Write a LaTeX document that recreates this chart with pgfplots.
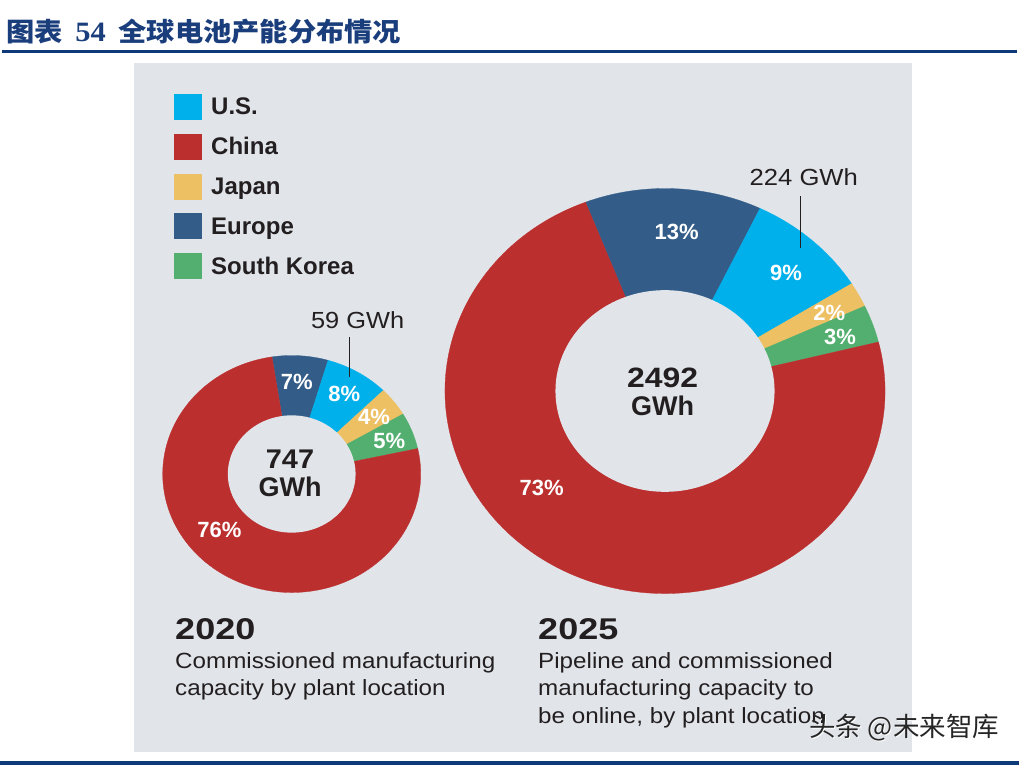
\documentclass[border=0pt]{standalone}
\usepackage{fontspec}
\setmainfont{Liberation Sans}
\newfontfamily\cjk{Noto Sans CJK SC}
\newfontfamily\tnr{Liberation Serif}
\usepackage{pgfplots}
\pgfplotsset{compat=1.18}
\definecolor{cUS}{HTML}{00B0EB}
\definecolor{cCN}{HTML}{BC2F2F}
\definecolor{cJP}{HTML}{EEC064}
\definecolor{cEU}{HTML}{335D88}
\definecolor{cKR}{HTML}{52AF6F}
\definecolor{panel}{HTML}{E1E5EA}
\definecolor{ttl}{HTML}{1A3D7C}
\definecolor{rule}{HTML}{0E3A7A}
\definecolor{dark}{HTML}{231F20}
% donut: cx cy rx ry ratio startangle {value/colour,...}
\newcommand\donut[7]{%
  \gdef\cum{0}%
  \foreach \v/\cl in {#7}{%
    \pgfmathsetmacro\sA{#6-3.6*\cum}%
    \pgfmathsetmacro\eA{#6-3.6*(\cum+\v)}%
    \edef\tmp{\noexpand\filldraw[\cl, line width=0.3pt] (axis cs:#1,#2) -- ++(\sA:#3pt and #4pt) arc[start angle=\sA, end angle=\eA, x radius=#3pt, y radius=#4pt] -- cycle;}%
    \tmp
    \pgfmathsetmacro\newcum{\cum+\v}\xdef\cum{\newcum}%
  }%
  \pgfmathsetmacro\rxi{#3*#5}\pgfmathsetmacro\ryi{#4*#5}%
  \edef\tmp{\noexpand\fill[panel] (axis cs:#1,#2) ellipse[x radius=\rxi pt, y radius=\ryi pt];}%
  \tmp
}
\newcommand\pct{\fontsize{22}{22}\selectfont\bfseries}
\begin{document}
\begin{tikzpicture}
\begin{axis}[width=1019pt, height=765pt, scale only axis,
  xmin=0, xmax=1019, ymin=0, ymax=765, hide axis, clip=false]
\addplot[draw=none] coordinates {(0,0) (1019,765)};
% background, panel, rules
\fill[white] (axis cs:0,0) rectangle (axis cs:1019,765);
\fill[panel] (axis cs:133.5,13.3) rectangle (axis cs:911.7,701.7);
\fill[rule] (axis cs:2,711.5) rectangle (axis cs:1017,714.5);
\fill[rule] (axis cs:0,0) rectangle (axis cs:1019,4);
% title
\node[anchor=west, inner sep=0pt, text=ttl, xscale=1.087] at (axis cs:6,733)
  {\fontsize{26}{26}\selectfont\cjk\bfseries 图表\hspace{0.45em}{\tnr\bfseries\fontsize{28}{28}\selectfont 54}\hspace{0.45em}全球电池产能分布情况};
% donuts (values in %)
\donut{291.7}{291}{129}{118.5}{0.495}{98.8}{7/cEU,8/cUS,4/cJP,5/cKR,76/cCN}
\donut{665}{374}{220}{202.5}{0.498}{111.2}{13/cEU,9/cUS,2/cJP,3/cKR,73/cCN}
% percentage labels
\node[text=white, inner sep=0pt] at (axis cs:296.7,383.3) {\pct 7\%};
\node[text=white, inner sep=0pt] at (axis cs:344.3,371) {\pct 8\%};
\node[text=white, inner sep=0pt] at (axis cs:374,347.7) {\pct 4\%};
\node[text=white, inner sep=0pt] at (axis cs:389.3,324.3) {\pct 5\%};
\node[text=white, inner sep=0pt] at (axis cs:219.3,235) {\pct 76\%};
\node[text=white, inner sep=0pt] at (axis cs:676.7,533.3) {\pct 13\%};
\node[text=white, inner sep=0pt] at (axis cs:786,492.3) {\pct 9\%};
\node[text=white, inner sep=0pt] at (axis cs:829.3,452.3) {\pct 2\%};
\node[text=white, inner sep=0pt] at (axis cs:840,427.7) {\pct 3\%};
\node[text=white, inner sep=0pt] at (axis cs:541.7,276.7) {\pct 73\%};
% totals
\node[text=dark, inner sep=0pt, xscale=1.07] at (axis cs:290,306) {\fontsize{27}{27}\selectfont\bfseries 747};
\node[text=dark, inner sep=0pt] at (axis cs:290,278) {\fontsize{27}{27}\selectfont\bfseries GWh};
\node[text=dark, inner sep=0pt, xscale=1.14] at (axis cs:662.7,387.2) {\fontsize{28}{28}\selectfont\bfseries 2492};
\node[text=dark, inner sep=0pt] at (axis cs:662.7,359.2) {\fontsize{27}{27}\selectfont\bfseries GWh};
% callouts
\node[text=dark, inner sep=0pt, xscale=1.09] at (axis cs:357.7,445) {\fontsize{23.3}{23.3}\selectfont 59 GWh};
\draw[dark, line width=1pt] (axis cs:349.3,427.7) -- (axis cs:349.3,387.7);
\node[text=dark, inner sep=0pt, xscale=1.1] at (axis cs:803.8,588.3) {\fontsize{23.3}{23.3}\selectfont 224 GWh};
\draw[dark, line width=1pt] (axis cs:800.7,569) -- (axis cs:800.7,516.7);
% legend
\fill[cUS] (axis cs:174,645) rectangle (axis cs:202,671);
\fill[cCN] (axis cs:174,605.2) rectangle (axis cs:202,631.2);
\fill[cJP] (axis cs:174,565.4) rectangle (axis cs:202,591.4);
\fill[cEU] (axis cs:174,525.6) rectangle (axis cs:202,551.6);
\fill[cKR] (axis cs:174,485.8) rectangle (axis cs:202,511.8);
\node[anchor=base west, inner sep=0pt, text=dark] at (axis cs:211,650) {\fontsize{24}{24}\selectfont\bfseries U.S.};
\node[anchor=base west, inner sep=0pt, text=dark] at (axis cs:211,610.2) {\fontsize{24}{24}\selectfont\bfseries China};
\node[anchor=base west, inner sep=0pt, text=dark] at (axis cs:211,570.4) {\fontsize{24}{24}\selectfont\bfseries Japan};
\node[anchor=base west, inner sep=0pt, text=dark] at (axis cs:211,530.6) {\fontsize{24}{24}\selectfont\bfseries Europe};
\node[anchor=base west, inner sep=0pt, text=dark] at (axis cs:211,490.8) {\fontsize{24}{24}\selectfont\bfseries South Korea};
% bottom texts
\node[anchor=base west, inner sep=0pt, text=dark, xscale=1.2] at (axis cs:175,125) {\fontsize{30}{30}\selectfont\bfseries 2020};
\node[anchor=base west, inner sep=0pt, text=dark, xscale=1.1] at (axis cs:175,96.7) {\fontsize{22}{22}\selectfont Commissioned manufacturing};
\node[anchor=base west, inner sep=0pt, text=dark, xscale=1.1] at (axis cs:175,69.3) {\fontsize{22}{22}\selectfont capacity by plant location};
\node[anchor=base west, inner sep=0pt, text=dark, xscale=1.2] at (axis cs:538,125) {\fontsize{30}{30}\selectfont\bfseries 2025};
\node[anchor=base west, inner sep=0pt, text=dark, xscale=1.1] at (axis cs:538,96.7) {\fontsize{22}{22}\selectfont Pipeline and commissioned};
\node[anchor=base west, inner sep=0pt, text=dark, xscale=1.1] at (axis cs:538,69.3) {\fontsize{22}{22}\selectfont manufacturing capacity to};
\node[anchor=base west, inner sep=0pt, text=dark, xscale=1.1] at (axis cs:538,41.7) {\fontsize{22}{22}\selectfont be online, by plant location};
% watermark
\node[inner sep=0pt, text=white] at (axis cs:905,36) {\fontsize{26.5}{26.5}\selectfont\cjk 头条 @未来智库};
\node[inner sep=0pt, text=black!85] at (axis cs:904,37) {\fontsize{26.5}{26.5}\selectfont\cjk 头条 @未来智库};
\end{axis}
\end{tikzpicture}
\end{document}
